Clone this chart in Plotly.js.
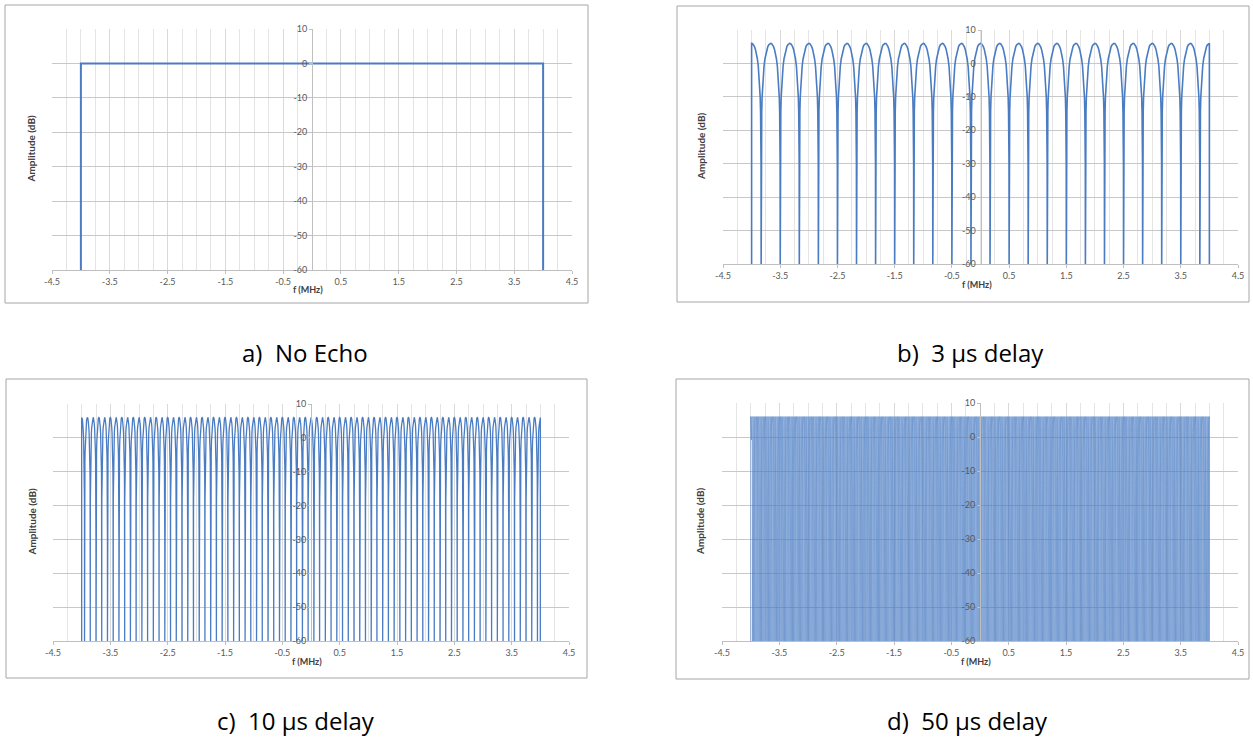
<!DOCTYPE html>
<html>
<head>
<meta charset="utf-8">
<script src="https://cdn.plot.ly/plotly-3.0.1.min.js"></script>
<style>
  html, body { margin: 0; padding: 0; background: #ffffff; }
  #chart { width: 1253px; height: 747px; }
</style>
</head>
<body>
<div id="chart"></div>
<script>
// ---------------- data ----------------
const panelCaptions = ['a)  No Echo', 'b)  3 \u00b5s delay', 'c)  10 \u00b5s delay', 'd)  50 \u00b5s delay'];
const echoDelaysUs = [0, 3, 10, 50];
// spacing between neighbouring peaks (MHz)
const lobeSpacingMHz = [null, 0.33333, 0.1, 0.02];
// occupied band edges (MHz)
const bandEdgesMHz = [-4, 4];
// flat response level without echo (dB)
const flatLevelDb = 0;
// floor of the plot (dB) – the nulls fall to it
const floorDb = -60;
// one half of a lobe: distance from the peak
// (fraction of half the peak spacing) and level in dB
const halfLobePos = [0, 0.1, 0.2, 0.3, 0.4, 0.5, 0.6, 0.7, 0.8, 0.86, 0.9, 0.94, 0.96, 0.98, 0.99, 1];
const halfLobeDb  = [6.02, 5.91, 5.58, 5.02, 4.18, 3.01, 1.41, -0.84, -4.18, -7.21, -10.09, -14.51, -18.02, -24.04, -30.06, -60];
// axis ticks
const xTickVals = [-4.5, -3.5, -2.5, -1.5, -0.5, 0.5, 1.5, 2.5, 3.5, 4.5];
const xTickText = ['-4.5', '-3.5', '-2.5', '-1.5', '-0.5', '0.5', '1.5', '2.5', '3.5', '4.5'];
const yTickVals = [-60, -50, -40, -30, -20, -10, 0, 10];
const yTickText = ['-60', '-50', '-40', '-30', '-20', '-10', '0', '10'];
const xTitle = 'f (MHz)';
const yTitle = 'Amplitude (dB)';

// ---------------- build series from the read values ----------------
function buildSeries(i) {
  const x = [], y = [];
  const f0 = bandEdgesMHz[0], f1 = bandEdgesMHz[1];
  x.push(f0); y.push(floorDb);
  if (lobeSpacingMHz[i] === null) {
    x.push(f0); y.push(flatLevelDb);
    x.push(f1); y.push(flatLevelDb);
  } else {
    const half = lobeSpacingMHz[i] / 2;
    const nHalves = Math.round((f1 - f0) / half);
    for (let h = 0; h < nHalves; h++) {
      const start = f0 + h * half;
      const descending = (h % 2 === 0);
      for (let k = 0; k < halfLobePos.length; k++) {
        if (h > 0 && k === 0) continue;
        const idx = descending ? k : halfLobePos.length - 1 - k;
        const d = descending ? halfLobePos[idx] : 1 - halfLobePos[idx];
        x.push(start + d * half);
        y.push(halfLobeDb[idx]);
      }
    }
  }
  x.push(f1); y.push(floorDb);
  return {x, y};
}

// ---------------- layout geometry (pixels) ----------------
const W = 1253, H = 747;
const plotBoxes = [ // [left, right, top, bottom] of plotting area
  [52, 572, 29, 270],
  [723, 1238, 30, 264],
  [53, 569, 404, 641],
  [722, 1238, 403, 641]
];
const frameBoxes = [ // outer frames
  [5, 588, 5, 303],
  [677, 1249, 6, 302],
  [6, 587, 379, 678],
  [676, 1249, 379, 679]
];
const captionPos = [[305, 352], [970, 352], [296, 720], [967, 720]];
const px = v => v / W;
const py = v => 1 - v / H;

const lineColor = '#4a7cc3';
const lineWidths = [2, 1.6, 1.3, 0.6];
const lineOpacity = [1, 1, 1, 0.9];
const tickFont = {family: 'Lato, "Open Sans", sans-serif', size: 9, color: '#595959'};

const traces = [];
const layout = {
  width: W, height: H,
  margin: {l: 0, r: 0, t: 0, b: 0},
  paper_bgcolor: '#ffffff',
  plot_bgcolor: '#ffffff',
  showlegend: false,
  shapes: [],
  annotations: []
};

for (let i = 0; i < 4; i++) {
  const s = buildSeries(i);
  const sfx = i === 0 ? '' : String(i + 1);
  traces.push({
    type: 'scatter', mode: 'lines',
    x: s.x, y: s.y,
    xaxis: 'x' + sfx, yaxis: 'y' + sfx,
    line: {color: lineColor, width: lineWidths[i]},
    opacity: lineOpacity[i],
    hoverinfo: 'skip'
  });
  const [L, R, T, B] = plotBoxes[i];
  const xDom = [px(L), px(R)];
  const yDom = [py(B), py(T)];
  const zeroPos = px(L + (0 - (-4.5)) / 9 * (R - L));
  layout['xaxis' + sfx] = {
    domain: xDom, range: [-4.5, 4.5], anchor: 'y' + sfx,
    tickmode: 'array', tickvals: xTickVals, ticktext: xTickText,
    showgrid: true, gridcolor: '#d9d9d9', gridwidth: 1,
    minor: {dtick: 0.25, tick0: -4.5, showgrid: true, gridcolor: '#e4e4e4', gridwidth: 1},
    zeroline: false, showline: true, linecolor: '#bfbfbf', linewidth: 1,
    ticks: 'outside', ticklen: 3, tickcolor: '#bfbfbf',
    tickfont: tickFont, fixedrange: true
  };
  layout['yaxis' + sfx] = {
    domain: yDom, range: [-60, 10], anchor: 'free', position: zeroPos,
    tickmode: 'array', tickvals: yTickVals, ticktext: yTickText,
    showgrid: true, gridcolor: '#c8c8c8', gridwidth: 1,
    zeroline: false, showline: true, linecolor: '#bfbfbf', linewidth: 1,
    ticks: 'outside', ticklen: 3, tickcolor: '#bfbfbf',
    tickfont: tickFont, fixedrange: true
  };
  const [fl, fr, ft, fb] = frameBoxes[i];
  layout.shapes.push({
    type: 'rect', xref: 'paper', yref: 'paper',
    x0: px(fl), x1: px(fr), y0: py(fb), y1: py(ft),
    line: {color: '#a6a6a6', width: 1}, fillcolor: 'rgba(0,0,0,0)', layer: 'below'
  });
  // y axis title
  layout.annotations.push({
    xref: 'paper', yref: 'paper', x: px(L - 22), y: py((T + B) / 2),
    text: '<b>' + yTitle + '</b>', textangle: -90, showarrow: false,
    xanchor: 'center', yanchor: 'middle',
    font: {family: 'Lato, "Open Sans", sans-serif', size: 10, color: '#404040'}
  });
  // x axis title
  layout.annotations.push({
    xref: 'paper', yref: 'paper', x: px(L + (R - L) / 2 - 4), y: py(B + 20),
    text: '<b>' + xTitle + '</b>', showarrow: false,
    xanchor: 'center', yanchor: 'middle',
    font: {family: 'Lato, "Open Sans", sans-serif', size: 9, color: '#404040'}
  });
  // caption
  layout.annotations.push({
    xref: 'paper', yref: 'paper', x: px(captionPos[i][0]), y: py(captionPos[i][1]),
    text: panelCaptions[i], showarrow: false,
    xanchor: 'center', yanchor: 'middle',
    font: {family: '"Open Sans", "Noto Sans", sans-serif', size: 24, color: '#000000'}
  });
}

Plotly.newPlot('chart', traces, layout, {displayModeBar: false, staticPlot: true});
</script>
</body>
</html>
